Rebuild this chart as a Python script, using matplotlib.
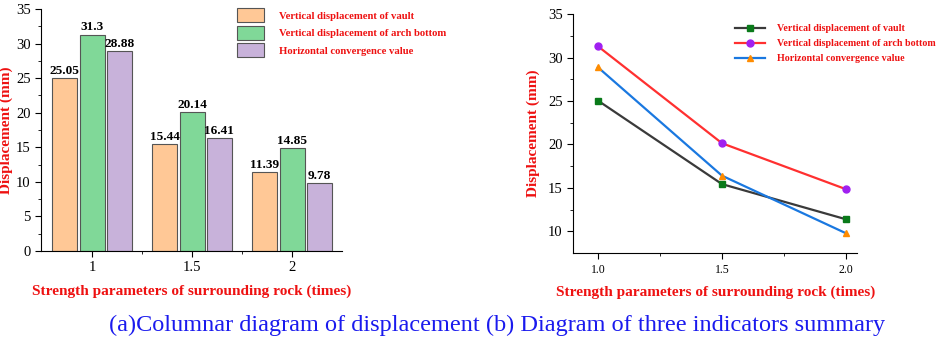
import matplotlib.pyplot as plt
import numpy as np

strength = [1.0, 1.5, 2.0]
strength_labels = ['1', '1.5', '2']
vault = [25.05, 15.44, 11.39]
arch_bottom = [31.3, 20.14, 14.85]
horizontal = [28.88, 16.41, 9.78]
value_labels = [['25.05', '15.44', '11.39'], ['31.3', '20.14', '14.85'], ['28.88', '16.41', '9.78']]
series_names = ['Vertical displacement of vault',
                'Vertical displacement of arch bottom',
                'Horizontal convergence value']

plt.rcParams['font.family'] = ['Liberation Serif', 'DejaVu Serif']

red = '#ee1111'
fig = plt.figure(figsize=(9.41, 3.43), dpi=100)

# (a) bar chart
ax1 = fig.add_axes([0.0436, 0.268, 0.320, 0.706])
x = np.arange(len(strength))
w = 0.25
step = 0.273
bar_cols = ['#ffc896', '#80d898', '#c8b2da']
series = [vault, arch_bottom, horizontal]
for i, (vals, col) in enumerate(zip(series, bar_cols)):
    bars = ax1.bar(x + (i - 1) * step, vals, w, color=col, edgecolor='#555555',
                   linewidth=0.8, label=series_names[i])
    for b, t in zip(bars, value_labels[i]):
        ax1.text(b.get_x() + b.get_width() / 2, b.get_height() + 0.15, t,
                 ha='center', va='bottom', fontsize=9.5, fontweight='bold')
ax1.set_xlim(-0.51, 2.5)
ax1.set_ylim(0, 35)
ax1.set_xticks(x)
ax1.set_xticklabels(strength_labels)
ax1.set_xticks([0.5, 1.5], minor=True)
ax1.set_yticks(np.arange(0, 36, 5))
ax1.set_yticks(np.arange(2.5, 35, 5), minor=True)
for s in ['top', 'right']:
    ax1.spines[s].set_visible(False)
ax1.tick_params(labelsize=10.5, length=4, width=0.8)
ax1.tick_params(which='minor', length=2.5)
ax1.set_ylabel('Displacement (mm)', color=red, fontsize=11, fontweight='bold', labelpad=2)
ax1.set_xlabel('Strength parameters of surrounding rock (times)', color=red,
               fontsize=11, fontweight='bold', labelpad=7)
leg1 = ax1.legend(loc='upper left', bbox_to_anchor=(0.635, 1.02), frameon=False,
                  fontsize=7.7, handlelength=2.6, handleheight=1.6, labelspacing=0.35,
                  handletextpad=1.4, borderaxespad=0)
for t in leg1.get_texts():
    t.set_color(red)
    t.set_fontweight('bold')

# (b) line chart
ax2 = fig.add_axes([0.609, 0.262, 0.302, 0.697])
ax2.plot(strength, vault, color='#3a3a3a', lw=1.6, marker='s', ms=5,
         mfc='#0a7a1a', mec='#0a7a1a', label=series_names[0])
ax2.plot(strength, arch_bottom, color='#ff3030', lw=1.6, marker='o', ms=5,
         mfc='#a020f0', mec='#a020f0', label=series_names[1])
ax2.plot(strength, horizontal, color='#1a78e0', lw=1.6, marker='^', ms=5,
         mfc='#ff8c00', mec='#ff8c00', label=series_names[2])
ax2.set_xlim(0.9, 2.045)
ax2.set_ylim(7.5, 35)
ax2.set_xticks(strength)
ax2.set_xticklabels(['1.0', '1.5', '2.0'])
ax2.set_xticks([1.25, 1.75], minor=True)
ax2.set_yticks([10, 15, 20, 25, 30, 35])
ax2.set_yticks([12.5, 17.5, 22.5, 27.5, 32.5], minor=True)
for s in ['top', 'right']:
    ax2.spines[s].set_visible(False)
ax2.tick_params(labelsize=10.5, length=4, width=0.8)
ax2.tick_params(axis='x', labelsize=8.5)
ax2.tick_params(which='minor', length=2.5)
ax2.set_ylabel('Displacement (mm)', color=red, fontsize=11, fontweight='bold', labelpad=6)
ax2.set_xlabel('Strength parameters of surrounding rock (times)', color=red,
               fontsize=11, fontweight='bold', labelpad=7)
leg2 = ax2.legend(loc='upper left', bbox_to_anchor=(0.555, 0.975), frameon=False,
                  fontsize=7.2, handlelength=3.0, labelspacing=0.6,
                  handletextpad=1.2, borderaxespad=0)
for t in leg2.get_texts():
    t.set_color(red)
    t.set_fontweight('bold')

fig.text(0.528, 0.05, '(a)Columnar diagram of displacement (b) Diagram of three indicators summary',
         ha='center', va='center', color='#1a1aee', fontsize=17.5)

fig.savefig('out.png', dpi=100)
